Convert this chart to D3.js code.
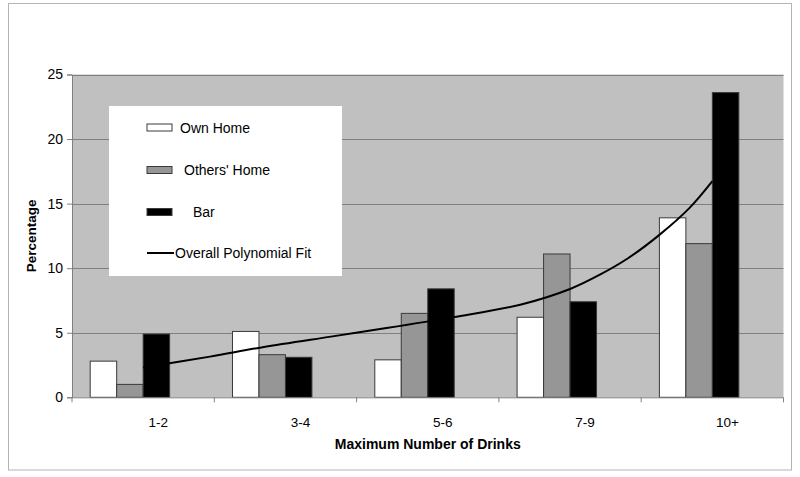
<!DOCTYPE html>
<html>
<head>
<meta charset="utf-8">
<script src="https://cdn.jsdelivr.net/npm/d3@7"></script>
<style>
  body { margin: 0; background: #fff; }
  text { font-family: "Liberation Sans", Arial, sans-serif; }
</style>
</head>
<body>
<div id="chart"></div>
<script>
// data
const categories = ["1-2", "3-4", "5-6", "7-9", "10+"];
const ownHome = [2.8, 5.1, 2.9, 6.2, 13.9];
const othersHome = [1.0, 3.3, 6.5, 11.1, 11.9];
const bar = [4.9, 3.1, 8.4, 7.4, 23.6];
// trendline, sampled along the curve (position in category units from first centre)
const fitPos = [0, 0.47, 0.84, 1.32, 1.71, 2.18, 2.65, 3.0, 3.21, 3.41, 3.63, 3.84, 4.0];
const fitValues = [2.3, 3.15, 3.88, 4.7, 5.36, 6.21, 7.17, 8.39, 9.5, 10.79, 12.6, 14.67, 16.74];
const yTicks = [0, 5, 10, 15, 20, 25];

const series = [
  {name: "Own Home", values: ownHome, fill: "#ffffff"},
  {name: "Others' Home", values: othersHome, fill: "#969696"},
  {name: "Bar", values: bar, fill: "#000000"}
];

const W = 800, H = 477;
const plotL = 72, plotR = 783.5, plotT = 74.5, plotB = 397.3;

const svg = d3.select("#chart").append("svg")
  .attr("width", W)
  .attr("height", H);

// outer frame
svg.append("rect")
  .attr("x", 8.5).attr("y", 3.5)
  .attr("width", 783).attr("height", 466.5)
  .attr("fill", "#fff")
  .attr("stroke", "#b4b4b4");

const x0 = d3.scaleBand().domain(categories).range([plotL, plotR]).padding(0);
// 4th slot is the (hidden) overall series the fit was made from
const x1 = d3.scaleBand()
  .domain(["Own Home", "Others' Home", "Bar", "Overall"])
  .range([0, x0.bandwidth()])
  .paddingInner(0).paddingOuter(0.687);
const y = d3.scaleLinear().domain([0, 25]).range([plotB, plotT]);
const xFit = d3.scaleLinear().domain([0, 4])
  .range([x0(categories[0]) + x0.bandwidth() / 2, x0(categories[4]) + x0.bandwidth() / 2]);

// plot area
svg.append("rect")
  .attr("x", plotL).attr("y", plotT)
  .attr("width", plotR - plotL).attr("height", plotB - plotT)
  .attr("fill", "#c0c0c0");

svg.append("g")
  .selectAll("line")
  .data(yTicks.filter(d => d > 0))
  .join("line")
    .attr("x1", plotL).attr("x2", plotR)
    .attr("y1", d => Math.round(y(d)) + 0.5).attr("y2", d => Math.round(y(d)) + 0.5)
    .attr("stroke", "#808080");

// bars
const groups = svg.append("g")
  .selectAll("g")
  .data(series)
  .join("g")
    .attr("fill", d => d.fill);

groups.selectAll("rect")
  .data(s => s.values.map((v, i) => ({name: s.name, cat: categories[i], v})))
  .join("rect")
    .attr("x", d => x0(d.cat) + x1(d.name))
    .attr("y", d => y(d.v))
    .attr("width", x1.bandwidth())
    .attr("height", d => y(0) - y(d.v))
    .attr("stroke", "#3a3a3a")
    .attr("stroke-width", 1);

// polynomial fit
const fitLine = d3.line()
  .x((d, i) => xFit(fitPos[i]))
  .y(d => y(d))
  .curve(d3.curveCatmullRom.alpha(0.5));

svg.append("path")
  .datum(fitValues)
  .attr("d", fitLine)
  .attr("fill", "none")
  .attr("stroke", "#000")
  .attr("stroke-width", 2);

// y axis
const yAxis = svg.append("g")
  .attr("transform", `translate(${plotL},0)`)
  .call(d3.axisLeft(y).tickValues(yTicks).tickSize(5).tickPadding(4));
yAxis.select(".domain").attr("stroke", "#808080");
yAxis.selectAll(".tick line").attr("stroke", "#808080");
yAxis.selectAll("text").attr("font-size", 14).attr("fill", "#000")
  .attr("font-family", "Liberation Sans, Arial, sans-serif");

// x axis: ticks on category boundaries, labels under each group
svg.append("line")
  .attr("x1", plotL).attr("x2", plotR)
  .attr("y1", plotB + 0.5).attr("y2", plotB + 0.5)
  .attr("stroke", "#808080");

svg.append("g")
  .selectAll("line")
  .data(categories.map(c => x0(c)).concat([plotR]))
  .join("line")
    .attr("x1", d => d).attr("x2", d => d)
    .attr("y1", plotB).attr("y2", plotB + 5)
    .attr("stroke", "#808080");

svg.append("g")
  .selectAll("text")
  .data(categories)
  .join("text")
    .attr("x", d => x0(d) + x0.bandwidth() / 2 + 15)
    .attr("y", 427)
    .attr("text-anchor", "middle")
    .attr("font-size", 13.5)
    .text(d => d);

svg.append("text")
  .attr("x", (plotL + plotR) / 2)
  .attr("y", 449)
  .attr("text-anchor", "middle")
  .attr("font-size", 14)
  .attr("font-weight", "bold")
  .text("Maximum Number of Drinks");

svg.append("text")
  .attr("transform", `translate(36,${(plotT + plotB) / 2}) rotate(-90)`)
  .attr("text-anchor", "middle")
  .attr("font-size", 13.5)
  .attr("font-weight", "bold")
  .text("Percentage");

// legend
const legend = svg.append("g");
legend.append("rect")
  .attr("x", 109).attr("y", 106)
  .attr("width", 233).attr("height", 170)
  .attr("fill", "#fff");

const legendRows = [
  {label: "Own Home", fill: "#ffffff", y: 127.5, tx: 180},
  {label: "Others' Home", fill: "#969696", y: 170, tx: 184},
  {label: "Bar", fill: "#000000", y: 212, tx: 193}
];

legend.selectAll(".sw")
  .data(legendRows)
  .join("rect")
    .attr("class", "sw")
    .attr("x", 147).attr("y", d => d.y - 3.5)
    .attr("width", 25).attr("height", 7)
    .attr("fill", d => d.fill)
    .attr("stroke", "#3a3a3a");

legend.selectAll(".lt")
  .data(legendRows)
  .join("text")
    .attr("class", "lt")
    .attr("x", d => d.tx).attr("y", d => d.y + 5)
    .attr("font-size", 14)
    .text(d => d.label);

legend.append("line")
  .attr("x1", 147).attr("x2", 174)
  .attr("y1", 253).attr("y2", 253)
  .attr("stroke", "#000").attr("stroke-width", 2);
legend.append("text")
  .attr("x", 175).attr("y", 258)
  .attr("font-size", 14)
  .text("Overall Polynomial Fit");
</script>
</body>
</html>
